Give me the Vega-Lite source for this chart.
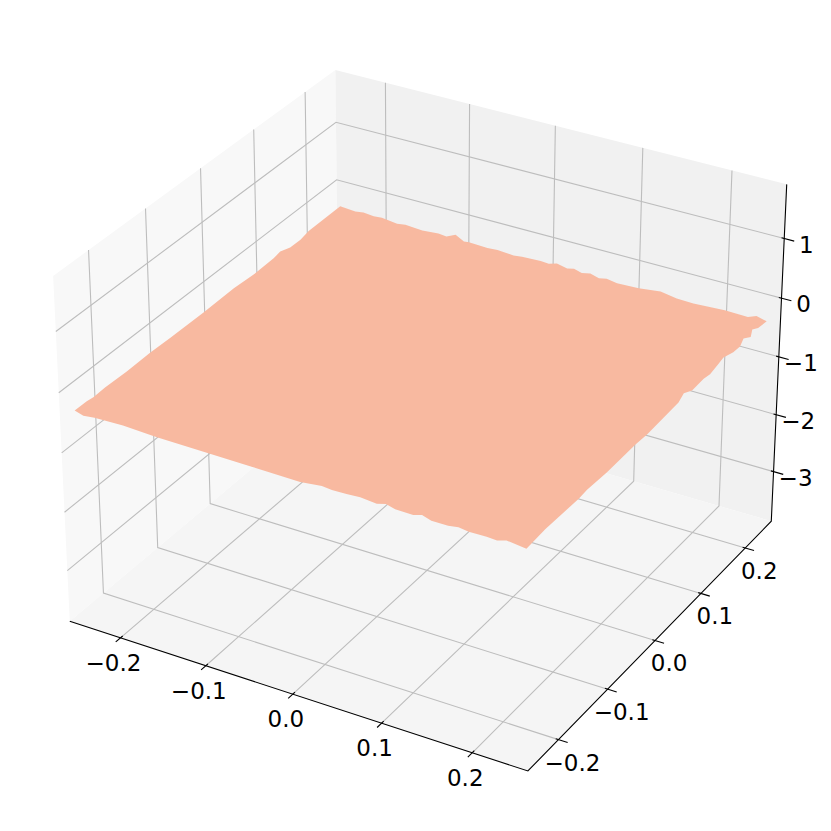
{"$schema":"https://vega.github.io/schema/vega-lite/v6.json","width":831,"height":831,"padding":0,"autosize":"none","background":"white","config":{"view":{"stroke":null}},
"data":{"values":[
{"kind":"pane","id":"left","o":0,"x":-0.2604,"y":-0.2604,"z":-3.883},{"kind":"pane","id":"left","o":1,"x":-0.2604,"y":0.2604,"z":-3.883},{"kind":"pane","id":"left","o":2,"x":-0.2604,"y":0.2604,"z":1.896},{"kind":"pane","id":"left","o":3,"x":-0.2604,"y":-0.2604,"z":1.896},
{"kind":"pane","id":"right","o":0,"x":-0.2604,"y":0.2604,"z":-3.883},{"kind":"pane","id":"right","o":1,"x":0.2604,"y":0.2604,"z":-3.883},{"kind":"pane","id":"right","o":2,"x":0.2604,"y":0.2604,"z":1.896},{"kind":"pane","id":"right","o":3,"x":-0.2604,"y":0.2604,"z":1.896},
{"kind":"pane","id":"floor","o":0,"x":-0.2604,"y":-0.2604,"z":-3.883},{"kind":"pane","id":"floor","o":1,"x":0.2604,"y":-0.2604,"z":-3.883},{"kind":"pane","id":"floor","o":2,"x":0.2604,"y":0.2604,"z":-3.883},{"kind":"pane","id":"floor","o":3,"x":-0.2604,"y":0.2604,"z":-3.883},
{"kind":"grid","id":"x1","o":0,"x":-0.2,"y":-0.2604,"z":-3.883},{"kind":"grid","id":"x1","o":1,"x":-0.2,"y":0.2604,"z":-3.883},{"kind":"grid","id":"x1","o":2,"x":-0.2,"y":0.2604,"z":1.896},
{"kind":"grid","id":"x2","o":0,"x":-0.1,"y":-0.2604,"z":-3.883},{"kind":"grid","id":"x2","o":1,"x":-0.1,"y":0.2604,"z":-3.883},{"kind":"grid","id":"x2","o":2,"x":-0.1,"y":0.2604,"z":1.896},
{"kind":"grid","id":"x3","o":0,"x":0,"y":-0.2604,"z":-3.883},{"kind":"grid","id":"x3","o":1,"x":0,"y":0.2604,"z":-3.883},{"kind":"grid","id":"x3","o":2,"x":0,"y":0.2604,"z":1.896},
{"kind":"grid","id":"x4","o":0,"x":0.1,"y":-0.2604,"z":-3.883},{"kind":"grid","id":"x4","o":1,"x":0.1,"y":0.2604,"z":-3.883},{"kind":"grid","id":"x4","o":2,"x":0.1,"y":0.2604,"z":1.896},
{"kind":"grid","id":"x5","o":0,"x":0.2,"y":-0.2604,"z":-3.883},{"kind":"grid","id":"x5","o":1,"x":0.2,"y":0.2604,"z":-3.883},{"kind":"grid","id":"x5","o":2,"x":0.2,"y":0.2604,"z":1.896},
{"kind":"grid","id":"y1","o":0,"x":0.2604,"y":-0.2,"z":-3.883},{"kind":"grid","id":"y1","o":1,"x":-0.2604,"y":-0.2,"z":-3.883},{"kind":"grid","id":"y1","o":2,"x":-0.2604,"y":-0.2,"z":1.896},
{"kind":"grid","id":"y2","o":0,"x":0.2604,"y":-0.1,"z":-3.883},{"kind":"grid","id":"y2","o":1,"x":-0.2604,"y":-0.1,"z":-3.883},{"kind":"grid","id":"y2","o":2,"x":-0.2604,"y":-0.1,"z":1.896},
{"kind":"grid","id":"y3","o":0,"x":0.2604,"y":0,"z":-3.883},{"kind":"grid","id":"y3","o":1,"x":-0.2604,"y":0,"z":-3.883},{"kind":"grid","id":"y3","o":2,"x":-0.2604,"y":0,"z":1.896},
{"kind":"grid","id":"y4","o":0,"x":0.2604,"y":0.1,"z":-3.883},{"kind":"grid","id":"y4","o":1,"x":-0.2604,"y":0.1,"z":-3.883},{"kind":"grid","id":"y4","o":2,"x":-0.2604,"y":0.1,"z":1.896},
{"kind":"grid","id":"y5","o":0,"x":0.2604,"y":0.2,"z":-3.883},{"kind":"grid","id":"y5","o":1,"x":-0.2604,"y":0.2,"z":-3.883},{"kind":"grid","id":"y5","o":2,"x":-0.2604,"y":0.2,"z":1.896},
{"kind":"grid","id":"z1","o":0,"x":-0.2604,"y":-0.2604,"z":-3},{"kind":"grid","id":"z1","o":1,"x":-0.2604,"y":0.2604,"z":-3},{"kind":"grid","id":"z1","o":2,"x":0.2604,"y":0.2604,"z":-3},
{"kind":"grid","id":"z2","o":0,"x":-0.2604,"y":-0.2604,"z":-2},{"kind":"grid","id":"z2","o":1,"x":-0.2604,"y":0.2604,"z":-2},{"kind":"grid","id":"z2","o":2,"x":0.2604,"y":0.2604,"z":-2},
{"kind":"grid","id":"z3","o":0,"x":-0.2604,"y":-0.2604,"z":-1},{"kind":"grid","id":"z3","o":1,"x":-0.2604,"y":0.2604,"z":-1},{"kind":"grid","id":"z3","o":2,"x":0.2604,"y":0.2604,"z":-1},
{"kind":"grid","id":"z4","o":0,"x":-0.2604,"y":-0.2604,"z":0},{"kind":"grid","id":"z4","o":1,"x":-0.2604,"y":0.2604,"z":0},{"kind":"grid","id":"z4","o":2,"x":0.2604,"y":0.2604,"z":0},
{"kind":"grid","id":"z5","o":0,"x":-0.2604,"y":-0.2604,"z":1},{"kind":"grid","id":"z5","o":1,"x":-0.2604,"y":0.2604,"z":1},{"kind":"grid","id":"z5","o":2,"x":0.2604,"y":0.2604,"z":1},
{"kind":"axis","id":"ax","o":0,"x":-0.2604,"y":-0.2604,"z":-3.883},{"kind":"axis","id":"ax","o":1,"x":0.2604,"y":-0.2604,"z":-3.883},{"kind":"axis","id":"ax","o":2,"x":0.2604,"y":0.2604,"z":-3.883},{"kind":"axis","id":"ax","o":3,"x":0.2604,"y":0.2604,"z":1.896},
{"kind":"tick","id":"tx1","o":0,"x":-0.2,"y":-0.2564,"z":-3.883},{"kind":"tick","id":"tx1","o":1,"x":-0.2,"y":-0.2689,"z":-3.883},
{"kind":"tick","id":"tx2","o":0,"x":-0.1,"y":-0.2564,"z":-3.883},{"kind":"tick","id":"tx2","o":1,"x":-0.1,"y":-0.2689,"z":-3.883},
{"kind":"tick","id":"tx3","o":0,"x":0,"y":-0.2564,"z":-3.883},{"kind":"tick","id":"tx3","o":1,"x":0,"y":-0.2689,"z":-3.883},
{"kind":"tick","id":"tx4","o":0,"x":0.1,"y":-0.2564,"z":-3.883},{"kind":"tick","id":"tx4","o":1,"x":0.1,"y":-0.2689,"z":-3.883},
{"kind":"tick","id":"tx5","o":0,"x":0.2,"y":-0.2564,"z":-3.883},{"kind":"tick","id":"tx5","o":1,"x":0.2,"y":-0.2689,"z":-3.883},
{"kind":"tick","id":"ty1","o":0,"x":0.2574,"y":-0.2,"z":-3.883},{"kind":"tick","id":"ty1","o":1,"x":0.2704,"y":-0.2,"z":-3.883},
{"kind":"tick","id":"ty2","o":0,"x":0.2574,"y":-0.1,"z":-3.883},{"kind":"tick","id":"ty2","o":1,"x":0.2704,"y":-0.1,"z":-3.883},
{"kind":"tick","id":"ty3","o":0,"x":0.2574,"y":0,"z":-3.883},{"kind":"tick","id":"ty3","o":1,"x":0.2704,"y":0,"z":-3.883},
{"kind":"tick","id":"ty4","o":0,"x":0.2574,"y":0.1,"z":-3.883},{"kind":"tick","id":"ty4","o":1,"x":0.2704,"y":0.1,"z":-3.883},
{"kind":"tick","id":"ty5","o":0,"x":0.2574,"y":0.2,"z":-3.883},{"kind":"tick","id":"ty5","o":1,"x":0.2704,"y":0.2,"z":-3.883},
{"kind":"tick","id":"tz1","o":0,"x":0.2574,"y":0.2604,"z":-3},{"kind":"tick","id":"tz1","o":1,"x":0.2714,"y":0.2604,"z":-3},
{"kind":"tick","id":"tz2","o":0,"x":0.2574,"y":0.2604,"z":-2},{"kind":"tick","id":"tz2","o":1,"x":0.2714,"y":0.2604,"z":-2},
{"kind":"tick","id":"tz3","o":0,"x":0.2574,"y":0.2604,"z":-1},{"kind":"tick","id":"tz3","o":1,"x":0.2714,"y":0.2604,"z":-1},
{"kind":"tick","id":"tz4","o":0,"x":0.2574,"y":0.2604,"z":0},{"kind":"tick","id":"tz4","o":1,"x":0.2714,"y":0.2604,"z":0},
{"kind":"tick","id":"tz5","o":0,"x":0.2574,"y":0.2604,"z":1},{"kind":"tick","id":"tz5","o":1,"x":0.2714,"y":0.2604,"z":1},
{"kind":"lx","label":"−0.2","x":-0.2,"y":-0.2604,"z":-3.883},{"kind":"lx","label":"−0.1","x":-0.1,"y":-0.2604,"z":-3.883},{"kind":"lx","label":"0.0","x":0,"y":-0.2604,"z":-3.883},{"kind":"lx","label":"0.1","x":0.1,"y":-0.2604,"z":-3.883},{"kind":"lx","label":"0.2","x":0.2,"y":-0.2604,"z":-3.883},
{"kind":"ly","label":"−0.2","x":0.2604,"y":-0.2,"z":-3.883},{"kind":"ly","label":"−0.1","x":0.2604,"y":-0.1,"z":-3.883},{"kind":"ly","label":"0.0","x":0.2604,"y":0,"z":-3.883},{"kind":"ly","label":"0.1","x":0.2604,"y":0.1,"z":-3.883},{"kind":"ly","label":"0.2","x":0.2604,"y":0.2,"z":-3.883},
{"kind":"lz","label":"−3","x":0.2604,"y":0.2604,"z":-3},{"kind":"lz","label":"−2","x":0.2604,"y":0.2604,"z":-2},{"kind":"lz","label":"−1","x":0.2604,"y":0.2604,"z":-1},{"kind":"lz","label":"0","x":0.2604,"y":0.2604,"z":0},{"kind":"lz","label":"1","x":0.2604,"y":0.2604,"z":1},
{"kind":"surface","id":"s","o":0,"x":-0.25,"y":0.25,"z":-0.357},{"kind":"surface","id":"s","o":1,"x":-0.2315,"y":0.25,"z":-0.378},{"kind":"surface","id":"s","o":2,"x":-0.2215,"y":0.25,"z":-0.357},{"kind":"surface","id":"s","o":3,"x":-0.209,"y":0.25,"z":-0.374},{"kind":"surface","id":"s","o":4,"x":-0.199,"y":0.25,"z":-0.362},{"kind":"surface","id":"s","o":5,"x":-0.1805,"y":0.25,"z":-0.392},{"kind":"surface","id":"s","o":6,"x":-0.1705,"y":0.25,"z":-0.371},{"kind":"surface","id":"s","o":7,"x":-0.15,"y":0.25,"z":-0.395},{"kind":"surface","id":"s","o":8,"x":-0.1305,"y":0.25,"z":-0.371},{"kind":"surface","id":"s","o":9,"x":-0.121,"y":0.25,"z":-0.386},{"kind":"surface","id":"s","o":10,"x":-0.11,"y":0.25,"z":-0.311},{"kind":"surface","id":"s","o":11,"x":-0.1,"y":0.25,"z":-0.392},{"kind":"surface","id":"s","o":12,"x":-0.094,"y":0.25,"z":-0.381},{"kind":"surface","id":"s","o":13,"x":-0.072,"y":0.25,"z":-0.392},{"kind":"surface","id":"s","o":14,"x":-0.06,"y":0.25,"z":-0.38},{"kind":"surface","id":"s","o":15,"x":-0.041,"y":0.25,"z":-0.4},{"kind":"surface","id":"s","o":16,"x":-0.031,"y":0.25,"z":-0.383},{"kind":"surface","id":"s","o":17,"x":-0.009,"y":0.25,"z":-0.368},{"kind":"surface","id":"s","o":18,"x":0.0005,"y":0.25,"z":-0.38},{"kind":"surface","id":"s","o":19,"x":0.01,"y":0.25,"z":-0.337},{"kind":"surface","id":"s","o":20,"x":0.022,"y":0.25,"z":-0.376},{"kind":"surface","id":"s","o":21,"x":0.03,"y":0.25,"z":-0.35},{"kind":"surface","id":"s","o":22,"x":0.039,"y":0.25,"z":-0.386},{"kind":"surface","id":"s","o":23,"x":0.049,"y":0.25,"z":-0.354},{"kind":"surface","id":"s","o":24,"x":0.059,"y":0.25,"z":-0.397},{"kind":"surface","id":"s","o":25,"x":0.068,"y":0.25,"z":-0.368},{"kind":"surface","id":"s","o":26,"x":0.08,"y":0.25,"z":-0.397},{"kind":"surface","id":"s","o":27,"x":0.105,"y":0.25,"z":-0.383},{"kind":"surface","id":"s","o":28,"x":0.13,"y":0.25,"z":-0.34},{"kind":"surface","id":"s","o":29,"x":0.1485,"y":0.25,"z":-0.386},{"kind":"surface","id":"s","o":30,"x":0.1675,"y":0.25,"z":-0.392},{"kind":"surface","id":"s","o":31,"x":0.203,"y":0.25,"z":-0.364},{"kind":"surface","id":"s","o":32,"x":0.229,"y":0.25,"z":-0.374},{"kind":"surface","id":"s","o":33,"x":0.2385,"y":0.25,"z":-0.319},{"kind":"surface","id":"s","o":34,"x":0.25,"y":0.25,"z":-0.362},
{"kind":"surface","id":"s","o":35,"x":0.25,"y":0.2305,"z":-0.336},{"kind":"surface","id":"s","o":36,"x":0.25,"y":0.217,"z":-0.267},{"kind":"surface","id":"s","o":37,"x":0.25,"y":0.214,"z":-0.373},{"kind":"surface","id":"s","o":38,"x":0.25,"y":0.1975,"z":-0.28},{"kind":"surface","id":"s","o":39,"x":0.25,"y":0.19,"z":-0.36},{"kind":"surface","id":"s","o":40,"x":0.25,"y":0.175,"z":-0.35},{"kind":"surface","id":"s","o":41,"x":0.25,"y":0.153,"z":-0.28},{"kind":"surface","id":"s","o":42,"x":0.25,"y":0.142,"z":-0.31},{"kind":"surface","id":"s","o":43,"x":0.25,"y":0.124,"z":-0.35},{"kind":"surface","id":"s","o":44,"x":0.25,"y":0.11,"z":-0.322},{"kind":"surface","id":"s","o":45,"x":0.25,"y":0.085,"z":-0.335},{"kind":"surface","id":"s","o":46,"x":0.25,"y":0.067,"z":-0.25},{"kind":"surface","id":"s","o":47,"x":0.25,"y":0.056,"z":-0.322},{"kind":"surface","id":"s","o":48,"x":0.25,"y":-0.01,"z":-0.36},{"kind":"surface","id":"s","o":49,"x":0.25,"y":-0.034,"z":-0.345},{"kind":"surface","id":"s","o":50,"x":0.25,"y":-0.092,"z":-0.355},{"kind":"surface","id":"s","o":51,"x":0.25,"y":-0.132,"z":-0.335},{"kind":"surface","id":"s","o":52,"x":0.25,"y":-0.1485,"z":-0.352},{"kind":"surface","id":"s","o":53,"x":0.25,"y":-0.214,"z":-0.33},{"kind":"surface","id":"s","o":54,"x":0.25,"y":-0.25,"z":-0.358},
{"kind":"surface","id":"s","o":55,"x":0.229,"y":-0.25,"z":-0.322},{"kind":"surface","id":"s","o":56,"x":0.219,"y":-0.25,"z":-0.369},{"kind":"surface","id":"s","o":57,"x":0.208,"y":-0.25,"z":-0.359},{"kind":"surface","id":"s","o":58,"x":0.189,"y":-0.25,"z":-0.367},{"kind":"surface","id":"s","o":59,"x":0.178,"y":-0.25,"z":-0.343},{"kind":"surface","id":"s","o":60,"x":0.167,"y":-0.25,"z":-0.367},{"kind":"surface","id":"s","o":61,"x":0.149,"y":-0.25,"z":-0.369},{"kind":"surface","id":"s","o":62,"x":0.139,"y":-0.25,"z":-0.322},{"kind":"surface","id":"s","o":63,"x":0.1295,"y":-0.25,"z":-0.365},{"kind":"surface","id":"s","o":64,"x":0.11,"y":-0.25,"z":-0.359},{"kind":"surface","id":"s","o":65,"x":0.1,"y":-0.25,"z":-0.321},{"kind":"surface","id":"s","o":66,"x":0.09,"y":-0.25,"z":-0.362},{"kind":"surface","id":"s","o":67,"x":0.072,"y":-0.25,"z":-0.338},{"kind":"surface","id":"s","o":68,"x":0.057,"y":-0.25,"z":-0.35},{"kind":"surface","id":"s","o":69,"x":0.041,"y":-0.25,"z":-0.357},{"kind":"surface","id":"s","o":70,"x":0.03,"y":-0.25,"z":-0.34},{"kind":"surface","id":"s","o":71,"x":0.006,"y":-0.25,"z":-0.384},{"kind":"surface","id":"s","o":72,"x":-0.048,"y":-0.25,"z":-0.372},{"kind":"surface","id":"s","o":73,"x":-0.0985,"y":-0.25,"z":-0.365},{"kind":"surface","id":"s","o":74,"x":-0.156,"y":-0.25,"z":-0.359},{"kind":"surface","id":"s","o":75,"x":-0.194,"y":-0.25,"z":-0.333},{"kind":"surface","id":"s","o":76,"x":-0.227,"y":-0.25,"z":-0.347},{"kind":"surface","id":"s","o":77,"x":-0.24,"y":-0.25,"z":-0.369},{"kind":"surface","id":"s","o":78,"x":-0.25,"y":-0.25,"z":-0.326},
{"kind":"surface","id":"s","o":79,"x":-0.25,"y":-0.229,"z":-0.33},{"kind":"surface","id":"s","o":80,"x":-0.25,"y":-0.2175,"z":-0.345},{"kind":"surface","id":"s","o":81,"x":-0.25,"y":-0.197,"z":-0.335},{"kind":"surface","id":"s","o":82,"x":-0.25,"y":-0.1585,"z":-0.35},{"kind":"surface","id":"s","o":83,"x":-0.25,"y":-0.1165,"z":-0.338},{"kind":"surface","id":"s","o":84,"x":-0.25,"y":-0.08,"z":-0.35},{"kind":"surface","id":"s","o":85,"x":-0.25,"y":-0.018,"z":-0.36},{"kind":"surface","id":"s","o":86,"x":-0.25,"y":0.0395,"z":-0.345},{"kind":"surface","id":"s","o":87,"x":-0.25,"y":0.0775,"z":-0.375},{"kind":"surface","id":"s","o":88,"x":-0.25,"y":0.1165,"z":-0.36},{"kind":"surface","id":"s","o":89,"x":-0.25,"y":0.1295,"z":-0.335},{"kind":"surface","id":"s","o":90,"x":-0.25,"y":0.149,"z":-0.395},{"kind":"surface","id":"s","o":91,"x":-0.25,"y":0.1695,"z":-0.4},{"kind":"surface","id":"s","o":92,"x":-0.25,"y":0.186,"z":-0.361}
]},
"transform":[
{"calculate":"datum.x/0.2604*0.5952","as":"qx"},
{"calculate":"datum.y/0.2604*0.5952","as":"qy"},
{"calculate":"(datum.z+0.9935)/5.779*0.8929","as":"qz"},
{"calculate":"10-(0.433*datum.qx-0.75*datum.qy+0.5*datum.qz)","as":"den"},
{"calculate":"(0.866*datum.qx+0.5*datum.qy)/datum.den","as":"h"},
{"calculate":"(-0.25*datum.qx+0.433*datum.qy+0.866*datum.qz)/datum.den","as":"v"}
],
"encoding":{
"x":{"field":"h","type":"quantitative","scale":{"domain":[-0.09685,0.09163],"nice":false,"zero":false},"axis":null},
"y":{"field":"v","type":"quantitative","scale":{"domain":[-0.09694,0.09154],"nice":false,"zero":false},"axis":null}
},
"layer":[
{"transform":[{"filter":"datum.id==='left'"}],"mark":{"type":"line","fill":"#f8f8f8","strokeWidth":0},"encoding":{"order":{"field":"o","type":"ordinal"}}},
{"transform":[{"filter":"datum.id==='right'"}],"mark":{"type":"line","fill":"#f1f1f1","strokeWidth":0},"encoding":{"order":{"field":"o","type":"ordinal"}}},
{"transform":[{"filter":"datum.id==='floor'"}],"mark":{"type":"line","fill":"#f5f5f5","strokeWidth":0},"encoding":{"order":{"field":"o","type":"ordinal"}}},
{"transform":[{"filter":"datum.kind==='grid'"}],"mark":{"type":"line","stroke":"#bdbdbd","strokeWidth":1.1,"fill":null},"encoding":{"detail":{"field":"id"},"order":{"field":"o","type":"ordinal"}}},
{"transform":[{"filter":"datum.kind==='axis'"}],"mark":{"type":"line","stroke":"#000000","strokeWidth":1.1,"fill":null},"encoding":{"order":{"field":"o","type":"ordinal"}}},
{"transform":[{"filter":"datum.kind==='tick'"}],"mark":{"type":"line","stroke":"#000000","strokeWidth":1.1,"fill":null},"encoding":{"detail":{"field":"id"},"order":{"field":"o","type":"ordinal"}}},
{"transform":[{"filter":"datum.kind==='surface'"}],"mark":{"type":"line","fill":"#f8b9a0","strokeWidth":0},"encoding":{"order":{"field":"o","type":"quantitative"}}},
{"transform":[{"filter":"datum.kind==='lx'"}],"mark":{"type":"text","font":"DejaVu Sans","fontSize":23,"dx":-7,"dy":26,"align":"center","baseline":"middle","color":"#000000"},"encoding":{"text":{"field":"label"}}},
{"transform":[{"filter":"datum.kind==='ly'"}],"mark":{"type":"text","font":"DejaVu Sans","fontSize":23,"dx":14,"dy":24,"align":"center","baseline":"middle","color":"#000000"},"encoding":{"text":{"field":"label"}}},
{"transform":[{"filter":"datum.kind==='lz'"}],"mark":{"type":"text","font":"DejaVu Sans","fontSize":23,"dx":22,"dy":7,"align":"center","baseline":"middle","color":"#000000"},"encoding":{"text":{"field":"label"}}}
]}
